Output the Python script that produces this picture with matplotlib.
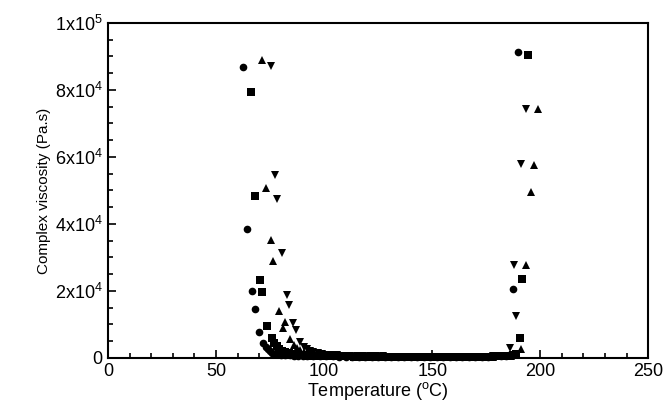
import matplotlib
matplotlib.use("Agg")
import matplotlib.pyplot as plt
from matplotlib.ticker import MultipleLocator, FuncFormatter

plt.rcParams["font.family"] = ["Liberation Sans", "DejaVu Sans"]
plt.rcParams["mathtext.fontset"] = "custom"
plt.rcParams["mathtext.rm"] = "Liberation Sans"
plt.rcParams["mathtext.it"] = "Liberation Sans"

# 네 개 시리즈 (원, 사각, 위 삼각, 아래 삼각) - 그림에서 읽은 값
circle_t = [62.3, 64.5, 66.8, 67.9, 70.0, 71.9, 73.0, 74.0, 75.0, 76.0, 77.0, 78.5,
            80.0, 82.0, 84.0, 86.0, 88.0, 90.0, 92.0, 95.0, 98.0, 101.0, 104.0,
            107.0, 110.0, 113.0, 116.0, 119.0, 122.0, 125.0, 128.0, 131.0, 134.0,
            137.0, 140.0, 143.0, 146.0, 149.0, 152.0, 155.0, 158.0, 161.0, 164.0,
            167.0, 170.0, 173.0, 176.0, 179.0, 182.0, 184.0, 185.5, 187.3, 189.5]
circle_v = [87000, 38400, 20100, 14500, 7600, 4400, 3200, 2500, 2000, 1600, 1300, 1100,
            950, 850, 750, 700, 650, 600, 550, 500, 500, 450, 450,
            400, 400, 400, 400, 400, 400, 400, 400, 400, 400,
            400, 400, 400, 400, 400, 400, 400, 400, 400, 400,
            400, 400, 400, 400, 450, 500, 600, 800, 20500, 91300]

square_t = [66.0, 67.9, 70.4, 71.2, 73.5, 75.8, 77.0, 78.0, 79.0, 80.5, 82.0, 83.5,
            85.0, 87.0, 89.0, 91.0, 93.0, 96.0, 99.0, 102.0, 105.0, 108.0, 111.0,
            114.0, 117.0, 120.0, 123.0, 126.0, 129.0, 132.0, 135.0, 138.0, 141.0,
            144.0, 147.0, 150.0, 153.0, 156.0, 159.0, 162.0, 165.0, 168.0, 171.0,
            174.0, 177.0, 180.0, 183.0, 185.5, 187.5, 189.0, 190.6, 191.7, 194.1]
square_v = [79300, 48400, 23300, 19700, 9550, 5870, 4300, 3400, 2700, 2100, 1700, 1400,
            1200, 1000, 900, 800, 700, 600, 550, 500, 500, 450, 450,
            400, 400, 400, 400, 400, 400, 400, 400, 400, 400,
            400, 400, 400, 400, 400, 400, 400, 400, 400, 400,
            400, 400, 450, 500, 600, 800, 1300, 5800, 23500, 90500]

tri_up_t = [71.1, 73.1, 75.3, 76.5, 78.9, 80.9, 82.1, 84.3, 86.0, 87.5, 89.0, 90.5,
            92.0, 94.0, 96.0, 98.0, 100.5, 103.0, 106.0, 109.0, 112.0, 115.0, 118.0,
            121.0, 124.0, 127.0, 130.0, 133.0, 136.0, 139.0, 142.0, 145.0, 148.0,
            151.0, 154.0, 157.0, 160.0, 163.0, 166.0, 169.0, 172.0, 175.0, 178.0,
            181.0, 184.0, 186.5, 188.5, 191.3, 193.5, 195.7, 196.9, 198.9]
tri_up_v = [89000, 50800, 35200, 28800, 14000, 9050, 10650, 5570, 3800, 2900, 2300, 1900,
            1600, 1300, 1100, 950, 800, 700, 650, 600, 550, 500, 500,
            450, 450, 450, 400, 400, 400, 400, 400, 400, 400,
            400, 400, 400, 400, 400, 400, 400, 400, 400, 400,
            450, 500, 600, 900, 2600, 27700, 49500, 57700, 74200]

tri_dn_t = [75.3, 77.3, 78.4, 80.4, 82.7, 83.6, 85.8, 87.0, 88.9, 90.5, 92.0, 93.5,
            95.0, 97.0, 99.0, 101.0, 103.5, 106.0, 109.0, 112.0, 115.0, 118.0, 121.0,
            124.0, 127.0, 130.0, 133.0, 136.0, 139.0, 142.0, 145.0, 148.0, 151.0,
            154.0, 157.0, 160.0, 163.0, 166.0, 169.0, 172.0, 175.0, 178.0, 181.0,
            183.5, 185.8, 188.0, 189.0, 190.9, 193.2]
tri_dn_v = [87300, 54600, 47500, 31300, 18800, 15800, 10400, 8400, 4600, 3300, 2600, 2100,
            1700, 1400, 1200, 1000, 850, 750, 650, 600, 550, 500, 500,
            450, 450, 400, 400, 400, 400, 400, 400, 400, 400,
            400, 400, 400, 400, 400, 400, 400, 400, 450, 500,
            700, 2800, 27800, 12500, 57800, 74300]

series = [
    (circle_t, circle_v, "o"),
    (square_t, square_v, "s"),
    (tri_up_t, tri_up_v, "^"),
    (tri_dn_t, tri_dn_v, "v"),
]


def sci_fmt(v, pos):
    if v == 0:
        return "0"
    exp = 4 if v < 1e5 else 5
    mant = int(round(v / 10 ** exp))
    return rf"{mant}x10$^{{{exp}}}$"


fig = plt.figure(figsize=(6.67, 4.03), dpi=100)
ax = fig.add_axes([0.162, 0.112, 0.810, 0.831])

for t, v, m in series:
    ax.plot(t, v, linestyle="none", marker=m, markersize=5.5,
            color="black", markeredgewidth=0, clip_on=False)

ax.set_xlim(0, 250)
ax.set_ylim(0, 100000)
ax.xaxis.set_major_locator(MultipleLocator(50))
ax.xaxis.set_minor_locator(MultipleLocator(10))
ax.yaxis.set_major_locator(MultipleLocator(20000))
ax.yaxis.set_minor_locator(MultipleLocator(5000))
ax.yaxis.set_major_formatter(FuncFormatter(sci_fmt))

ax.tick_params(which="both", direction="in", top=False, right=False,
               width=1.2, labelsize=13)
ax.tick_params(axis="x", pad=3.5)
ax.tick_params(axis="y", pad=4)
ax.tick_params(which="major", length=6)
ax.tick_params(which="minor", length=3.5)
for sp in ax.spines.values():
    sp.set_linewidth(1.5)

ax.set_xlabel(r"Temperature ($^{\rm o}$C)", fontsize=13, labelpad=0)
ax.set_ylabel("Complex viscosity (Pa.s)", fontsize=11, labelpad=3)

fig.savefig("out.png", dpi=100, facecolor="white")
